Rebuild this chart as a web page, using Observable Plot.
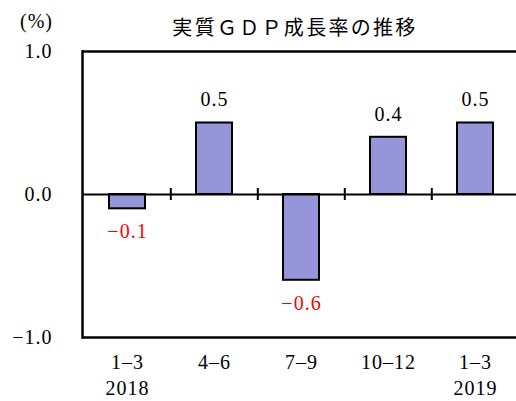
<!DOCTYPE html>
<html><head><meta charset="utf-8">
<script src="https://cdn.jsdelivr.net/npm/d3@7"></script>
<script src="https://cdn.jsdelivr.net/npm/@observablehq/plot@0.6"></script>
<style>body{margin:0;background:#fff}</style>
</head><body><div id="chart"></div>
<script>
const quarters = ["1–3", "4–6", "7–9", "10–12", "1–3"];
const years = ["2018", "", "", "", "2019"];
const growth = [-0.1, 0.5, -0.6, 0.4, 0.5];
const yTicks = [-1, 0, 1];
const title = "実質ＧＤＰ成長率の推移";
const unit = "(%)";

const data = quarters.map((q, i) => ({key: i, q, year: years[i], v: growth[i]}));
const fmt = d3.format(".1f");
const W = 516, H = 401, mL = 82, mT = 51, mB = 64, xRight = 519;
const step = (xRight - mL) / quarters.length;

const chart = Plot.plot({
  width: W, height: H,
  marginLeft: mL, marginRight: 0, marginTop: mT, marginBottom: mB,
  style: {fontFamily: "'Liberation Serif', serif", fontSize: "20px", background: "#fff", color: "#000", letterSpacing: "1px"},
  x: {type: "band", label: null, domain: data.map(d => d.key), range: [mL, xRight], paddingInner: 0.59, paddingOuter: 0.295, align: 0.5},
  y: {label: null, domain: [-1, 1]},
  marks: [
    Plot.axisY(yTicks, {label: null, tickSize: 0, tickPadding: 30, tickFormat: fmt}),
    Plot.axisX({label: null, tickSize: 0, tickPadding: 13, lineHeight: 1.3, tickFormat: i => years[i] ? quarters[i] + "\n" + years[i] : quarters[i]}),
    Plot.barY(data, {x: "key", y: "v", fill: "#9595d9", stroke: "#000", strokeWidth: 2}),
    Plot.ruleY([0], {stroke: "#000", strokeWidth: 2}),
    Plot.ruleX(data.slice(1), {x: "key", y1: 0, y2: 0, insetTop: -6, insetBottom: -6, dx: -step / 2, stroke: "#000", strokeWidth: 2}),
    Plot.ruleY([-1, 1], {stroke: "#000", strokeWidth: 2.5}),
    Plot.frame({anchor: "left", stroke: "#000", strokeWidth: 2.5}),
    Plot.text(data.filter(d => d.v >= 0), {x: "key", y: "v", text: d => fmt(d.v), dy: -23, fill: "#000"}),
    Plot.text(data.filter(d => d.v < 0), {x: "key", y: "v", text: d => fmt(d.v), dy: 23, fill: "#ff0000"}),
    Plot.text([title], {frameAnchor: "top", lineAnchor: "middle", textAnchor: "middle", dx: -4.5, dy: -22.5, text: d => d, fontFamily: "'Noto Sans CJK JP', sans-serif", fontSize: 20, fill: "#000"}),
    Plot.text([unit], {frameAnchor: "top-left", lineAnchor: "middle", textAnchor: "middle", dx: -46, dy: -30, text: d => d, fill: "#000"})
  ]
});
d3.select(chart).selectAll("text").filter(function() { return this.textContent === title; }).style("letter-spacing", "2.3px");
document.getElementById("chart").appendChild(chart);
</script>
</body></html>
